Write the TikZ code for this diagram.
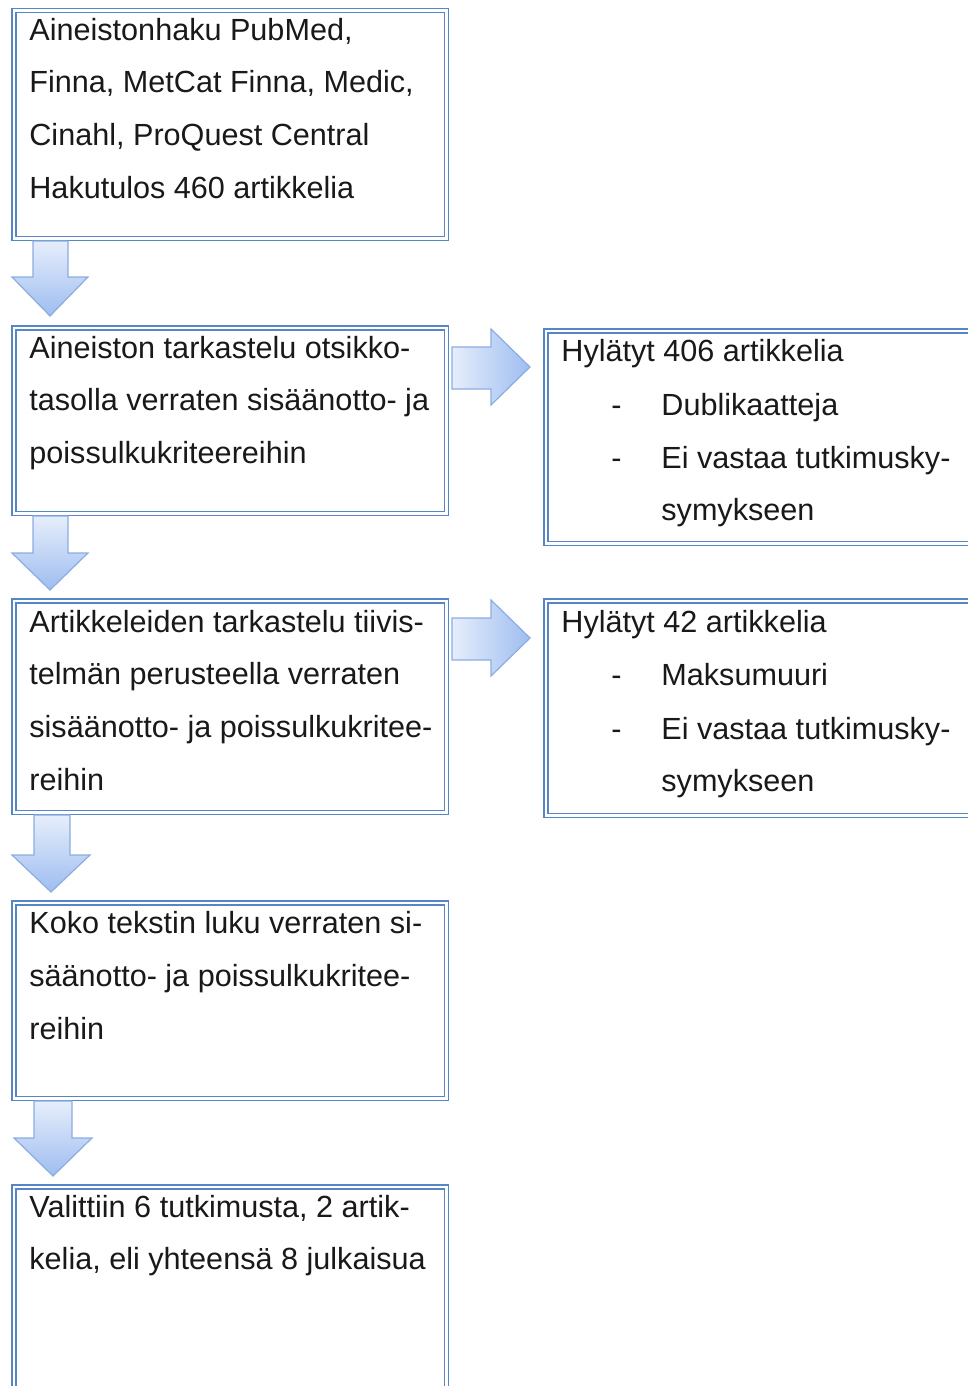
\documentclass[tikz,border=0pt]{standalone}
\usepackage{fontspec}
\setmainfont{Liberation Sans}
\usetikzlibrary{fit}
\definecolor{boxblue}{RGB}{86,134,198}
\definecolor{arrTop}{RGB}{230,238,251}
\definecolor{arrBot}{RGB}{158,189,240}
\definecolor{arrLine}{RGB}{140,172,226}
\definecolor{txtcol}{RGB}{25,25,25}
\begin{document}
\begin{tikzpicture}[x=0.5pt,y=-0.5pt,
  box/.style={draw=boxblue, line width=0.75pt, double=white, double distance=1.25pt, inner sep=0pt, fill=white},
  txt/.style={anchor=base west, inner sep=0pt, text=txtcol, font=\fontsize{15.3pt}{18pt}\selectfont},
  downarr/.style={draw=arrLine, line width=0.6pt, top color=arrTop, bottom color=arrBot, line join=miter},
  rightarr/.style={draw=arrLine, line width=0.6pt, left color=arrTop, right color=arrBot, line join=miter}]
\useasboundingbox (0,0) rectangle (968,1386);
\clip (0,0) rectangle (968,1386);

% boxes
\node[box, fit={(13.75,10.75) (446.25,238.25)}] (b1) {};
\node[box, fit={(13.75,327.75) (446.25,513.25)}] (b2) {};
\node[box, fit={(13.75,600.75) (446.25,812.25)}] (b3) {};
\node[box, fit={(13.75,902.75) (446.25,1098.25)}] (b4) {};
\node[box, fit={(13.75,1186.75) (446.25,1420)}] (b5) {};
\node[box, fit={(545.75,330.75) (1000,543.25)}] (r1) {};
\node[box, fit={(545.75,600.75) (1000,815.25)}] (r2) {};

% down arrows
\draw[downarr] (33,241) -- (68,241) -- (68,277) -- (88,277) -- (50,316) -- (12,277) -- (33,277) -- cycle;
\draw[downarr] (33,516) -- (68,516) -- (68,553) -- (88,553) -- (50,590) -- (12,553) -- (33,553) -- cycle;
\draw[downarr] (34,815) -- (70,815) -- (70,855) -- (90,855) -- (51,892) -- (12,855) -- (34,855) -- cycle;
\draw[downarr] (34,1101) -- (72,1101) -- (72,1138) -- (92,1138) -- (53,1176) -- (14,1138) -- (34,1138) -- cycle;

% right arrows
\draw[rightarr] (452,347) -- (491,347) -- (491,329) -- (530,367) -- (491,405) -- (491,389) -- (452,389) -- cycle;
\draw[rightarr] (452,618) -- (491,618) -- (491,600) -- (530,638) -- (491,676) -- (491,660) -- (452,660) -- cycle;

% texts box 1
\node[txt] (t11) at (29,41) {Aineistonhaku PubMed,};
\node[txt] (t12) at (29,93) {Finna, MetCat Finna, Medic,};
\node[txt] (t13) at (29,146) {Cinahl, ProQuest Central};
\node[txt] (t14) at (29,198) {Hakutulos 460 artikkelia};
% box 2
\node[txt] (t21) at (29,358) {Aineiston tarkastelu otsikko-};
\node[txt] (t22) at (29,410) {tasolla verraten sisäänotto- ja};
\node[txt] (t23) at (29,463) {poissulkukriteereihin};
% right box 1
\node[txt] (r11) at (561,361) {Hylätyt 406 artikkelia};
\node[txt] (r12d) at (611,415) {-};
\node[txt] (r12) at (661,415) {Dublikaatteja};
\node[txt] (r13d) at (611,468) {-};
\node[txt] (r13) at (661,468) {Ei vastaa tutkimusky-};
\node[txt] (r14) at (661,520) {symykseen};
% box 3
\node[txt] (t31) at (29,632) {Artikkeleiden tarkastelu tiivis-};
\node[txt] (t32) at (29,684) {telmän perusteella verraten};
\node[txt] (t33) at (29,737) {sisäänotto- ja poissulkukritee-};
\node[txt] (t34) at (29,790) {reihin};
% right box 2
\node[txt] (r21) at (561,632) {Hylätyt 42 artikkelia};
\node[txt] (r22d) at (611,685) {-};
\node[txt] (r22) at (661,685) {Maksumuuri};
\node[txt] (r23d) at (611,739) {-};
\node[txt] (r23) at (661,739) {Ei vastaa tutkimusky-};
\node[txt] (r24) at (661,791) {symykseen};
% box 4
\node[txt] (t41) at (29,933) {Koko tekstin luku verraten si-};
\node[txt] (t42) at (29,986) {säänotto- ja poissulkukritee-};
\node[txt] (t43) at (29,1039) {reihin};
% box 5
\node[txt] (t51) at (29,1217) {Valittiin 6 tutkimusta, 2 artik-};
\node[txt] (t52) at (29,1269) {kelia, eli yhteensä 8 julkaisua};
\end{tikzpicture}
\end{document}
